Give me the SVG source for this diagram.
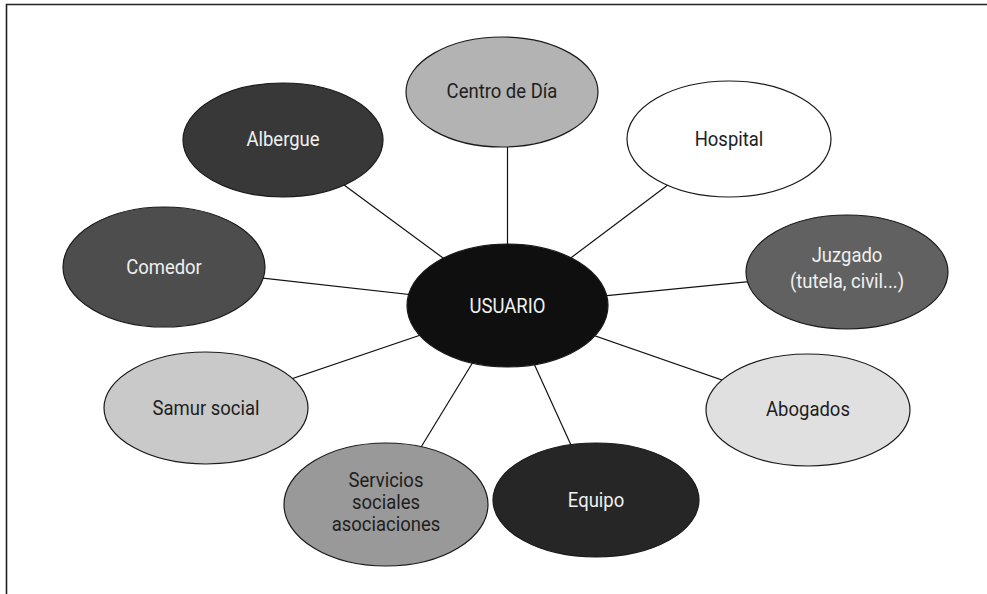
<svg xmlns="http://www.w3.org/2000/svg" width="987" height="594" viewBox="0 0 987 594">
<style>
.n ellipse{stroke:#1a1a1a;stroke-width:1.2}
.n text{font-family:Roboto,"Liberation Sans",sans-serif;font-size:21px;text-anchor:middle}
.lt{fill:#f0f0f0}
.dk{fill:#1e1e1e}
#connectors line{stroke:#111;stroke-width:1.2}
</style>
<rect width="987" height="594" fill="#fff"/>
<path d="M6.5 594V4.5H987" fill="none" stroke="#222" stroke-width="1.6"/>
<g id="connectors">
<line x1="507.5" y1="305.5" x2="507.5" y2="92"/>
<line x1="507.5" y1="305.5" x2="729" y2="139"/>
<line x1="507.5" y1="305.5" x2="283" y2="140"/>
<line x1="507.5" y1="305.5" x2="164" y2="267"/>
<line x1="507.5" y1="305.5" x2="847" y2="272"/>
<line x1="507.5" y1="305.5" x2="206" y2="408"/>
<line x1="507.5" y1="305.5" x2="386" y2="504.5"/>
<line x1="507.5" y1="305.5" x2="596" y2="500"/>
<line x1="507.5" y1="305.5" x2="808" y2="410"/>
</g>
<g id="centro" class="n" transform="translate(502,92)">
<ellipse rx="96" ry="55" fill="#b3b3b3"/>
<text class="dk" y="6" transform="scale(0.88,1)">Centro de Día</text>
</g>
<g id="hospital" class="n" transform="translate(729,139)">
<ellipse rx="102" ry="58" fill="#ffffff"/>
<text class="dk" y="7" transform="scale(0.88,1)">Hospital</text>
</g>
<g id="albergue" class="n" transform="translate(283,140)">
<ellipse rx="100" ry="57" fill="#383838"/>
<text class="lt" y="6" transform="scale(0.88,1)">Albergue</text>
</g>
<g id="comedor" class="n" transform="translate(164,267)">
<ellipse rx="101" ry="60" fill="#4d4d4d"/>
<text class="lt" y="7" transform="scale(0.88,1)">Comedor</text>
</g>
<g id="juzgado" class="n" transform="translate(847,272)">
<ellipse rx="101" ry="57" fill="#616161"/>
<text class="lt" y="-10" transform="scale(0.88,1)">Juzgado</text>
<text class="lt" y="16" transform="scale(0.88,1)">(tutela, civil...)</text>
</g>
<g id="samur" class="n" transform="translate(206,408)">
<ellipse rx="102" ry="56" fill="#c9c9c9"/>
<text class="dk" y="7" transform="scale(0.88,1)">Samur social</text>
</g>
<g id="servicios" class="n" transform="translate(386,504.5)">
<ellipse rx="102" ry="61.5" fill="#999999"/>
<text class="dk" y="-18" transform="scale(0.88,1)">Servicios</text>
<text class="dk" y="4" transform="scale(0.88,1)">sociales</text>
<text class="dk" y="27" transform="scale(0.88,1)">asociaciones</text>
</g>
<g id="equipo" class="n" transform="translate(596,500)">
<ellipse rx="103" ry="57" fill="#262626"/>
<text class="lt" y="7" transform="scale(0.88,1)">Equipo</text>
</g>
<g id="abogados" class="n" transform="translate(808,410)">
<ellipse rx="102" ry="56" fill="#e0e0e0"/>
<text class="dk" y="6" transform="scale(0.88,1)">Abogados</text>
</g>
<g id="usuario" class="n" transform="translate(507.5,305.5)">
<ellipse rx="100.5" ry="61.5" fill="#0f0f0f"/>
<text class="lt" y="7" transform="scale(0.88,1)">USUARIO</text>
</g>
</svg>
